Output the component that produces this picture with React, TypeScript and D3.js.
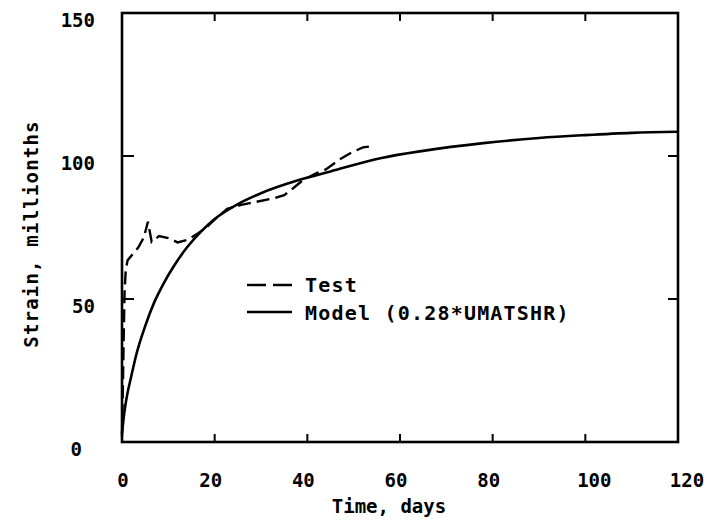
import React, { useEffect, useRef } from "react";
import * as d3 from "d3";

const testDays = [0, 0.15, 0.35, 0.55, 0.8, 1.2, 2.2, 3.5, 4.7, 5.6, 6.4, 8, 10, 12, 14, 16, 18.3, 20.5, 22.7, 25.5, 29, 33, 35, 37, 39, 42, 44, 47, 49.5, 52, 54.5];
const testStrain = [2, 15, 35, 52, 60, 63.5, 65.5, 68, 71.5, 77, 70, 72, 71.3, 69.8, 70.6, 72.5, 75.2, 78.5, 81.5, 82.8, 84, 85.3, 86.3, 88.8, 91.5, 94, 95.3, 98.8, 101.2, 103, 103.5];

const modelDays = [0, 0.4, 1, 2, 3, 5, 7, 9, 11, 14, 17, 20, 25, 30, 38, 45, 56, 65, 78, 90, 100, 110, 120];
const modelStrain = [3, 9, 15.5, 23, 30, 40.5, 49, 55.5, 61, 68, 73.5, 78, 83.2, 87, 91.5, 94.6, 99.3, 101.8, 104.5, 106.3, 107.3, 108.1, 108.5];

const xTicks = [0, 20, 40, 60, 80, 100, 120];
const yTicks = [0, 50, 100, 150];
const legendLabels = ["Test", "Model (0.28*UMATSHR)"];

const FONT = "'DejaVu Sans Mono', monospace";

export default function App() {
  const ref = useRef<SVGSVGElement | null>(null);
  useEffect(() => {
    const svg = d3.select(ref.current);
    svg.selectAll("*").remove();
    const x = d3.scaleLinear().domain([0, 120]).range([122, 678]);
    const y = d3.scaleLinear().domain([0, 150]).range([442, 13]);
    const ink = "#000";

    // frame
    svg.append("rect").attr("x", x(0)).attr("y", y(150)).attr("width", x(120) - x(0)).attr("height", y(0) - y(150))
      .attr("fill", "none").attr("stroke", ink).attr("stroke-width", 2.6);

    // ticks (inward on all sides)
    xTicks.slice(1, -1).forEach((t) => {
      svg.append("line").attr("x1", x(t)).attr("x2", x(t)).attr("y1", y(0)).attr("y2", y(0) - 8).attr("stroke", ink).attr("stroke-width", 2);
      svg.append("line").attr("x1", x(t)).attr("x2", x(t)).attr("y1", y(150)).attr("y2", y(150) + 8).attr("stroke", ink).attr("stroke-width", 2);
    });
    yTicks.slice(1, -1).forEach((t) => {
      svg.append("line").attr("x1", x(0)).attr("x2", x(0) + 12).attr("y1", y(t)).attr("y2", y(t)).attr("stroke", ink).attr("stroke-width", 2);
      svg.append("line").attr("x1", x(120)).attr("x2", x(120) - 10).attr("y1", y(t)).attr("y2", y(t)).attr("stroke", ink).attr("stroke-width", 2);
    });

    // tick labels
    const xLab = svg.append("g").attr("font-family", FONT).attr("font-weight", "bold").attr("font-size", 19);
    xTicks.forEach((t) => {
      const s = String(t);
      const dx = s.length === 1 ? 1 : s.length === 2 ? -4 : 9;
      xLab.append("text").attr("x", x(t) + dx).attr("y", 487).attr("text-anchor", "middle").text(s);
    });
    const yLab = svg.append("g").attr("font-family", FONT).attr("font-weight", "bold").attr("font-size", 19);
    yTicks.forEach((t) => {
      const s = String(t);
      const xx = t === 0 ? 82 : 95;
      yLab.append("text").attr("x", xx).attr("y", y(t) + 14).attr("text-anchor", "end").text(s);
    });

    // axis titles
    svg.append("text").attr("x", 389).attr("y", 513).attr("text-anchor", "middle")
      .attr("font-family", FONT).attr("font-weight", "bold").attr("font-size", 19).text("Time, days");
    svg.append("text").attr("transform", `translate(38,${234}) rotate(-90)`).attr("text-anchor", "middle")
      .attr("font-family", FONT).attr("font-weight", "bold").attr("font-size", 19).attr("letter-spacing", 1.2).text("Strain, millionths");

    const line = d3.line<[number, number]>().x((d) => x(d[0])).y((d) => y(d[1]));
    const modelPts = modelDays.map((d, i) => [d, modelStrain[i]] as [number, number]);
    const testPts = testDays.map((d, i) => [d, testStrain[i]] as [number, number]);

    svg.append("path").attr("d", line.curve(d3.curveMonotoneX)(modelPts) as string)
      .attr("fill", "none").attr("stroke", ink).attr("stroke-width", 2.6);
    svg.append("path").attr("d", line.curve(d3.curveLinear)(testPts) as string)
      .attr("fill", "none").attr("stroke", ink).attr("stroke-width", 2.4).attr("stroke-dasharray", "13,6");

    // legend
    const lg = svg.append("g");
    lg.append("line").attr("x1", 247).attr("x2", 292).attr("y1", 285).attr("y2", 285).attr("stroke", ink).attr("stroke-width", 2.4).attr("stroke-dasharray", "19,7");
    lg.append("line").attr("x1", 247).attr("x2", 292).attr("y1", 312).attr("y2", 312).attr("stroke", ink).attr("stroke-width", 2.4);
    legendLabels.forEach((s, i) => {
      lg.append("text").attr("x", 305).attr("y", 292 + i * 28).attr("font-family", FONT).attr("font-weight", "bold")
        .attr("font-size", 20).attr("letter-spacing", 1.2).text(s);
    });
  }, []);
  return (
    <div style={{ position: "absolute", left: 0, top: 0 }}>
      <svg ref={ref} width={707} height={521} style={{ display: "block", background: "#fff" }} />
    </div>
  );
}
